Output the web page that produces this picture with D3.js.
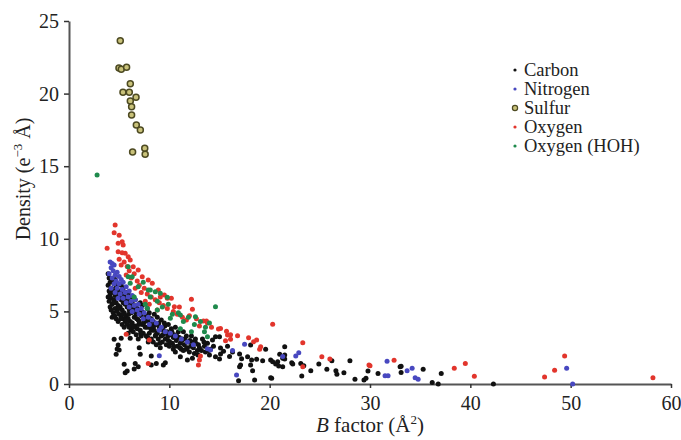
<!DOCTYPE html>
<html>
<head>
<meta charset="utf-8">
<script src="https://cdn.jsdelivr.net/npm/d3@7"></script>
<style>
  body { margin: 0; background: #fff; }
  text { font-family: "Liberation Serif", "Times New Roman", serif; fill: #222; }
</style>
</head>
<body>
<div id="chart"></div>
<script>
// values: [B factor, density]
var carbon = [
  [3.9,7.6],[4.0,7.3],[4.1,7.0],[3.9,6.8],[4.2,6.6],[4.0,6.4],[4.1,6.2],[3.9,6.0],[4.2,5.9],[4.0,5.7],[4.3,5.5],[4.1,5.3],[4.2,5.1],[4.4,4.9],[4.3,4.6],
  [4.6,7.2],[4.5,6.9],[4.7,6.7],[4.5,6.5],[4.8,6.3],[4.6,6.1],[4.9,6.0],[4.5,5.8],[4.7,5.6],[4.9,5.4],[4.6,5.2],[4.8,5.0],[5.0,4.8],[4.7,4.5],[4.9,4.3],
  [5.2,6.8],[5.4,6.6],[5.1,6.4],[5.3,6.2],[5.5,6.0],[5.2,5.8],[5.4,5.6],[5.6,5.5],[5.1,5.3],[5.3,5.1],[5.5,4.9],[5.2,4.7],[5.4,4.5],[5.6,4.3],[5.3,4.1],[5.5,3.9],
  [5.8,6.3],[6.0,6.1],[5.7,5.9],[5.9,5.7],[6.1,5.5],[5.8,5.3],[6.0,5.1],[6.2,4.9],[5.7,4.7],[5.9,4.5],[6.1,4.3],[5.8,4.1],[6.0,3.9],[6.2,3.7],[5.9,3.5],
  [6.4,6.0],[6.6,5.8],[6.3,5.6],[6.5,5.4],[6.8,5.2],[6.4,5.0],[6.7,4.8],[6.5,4.6],[6.9,4.4],[6.3,4.2],[6.6,4.0],[6.8,3.8],[6.4,3.6],[6.7,3.4],
  [7.1,5.6],[7.3,5.4],[7.0,5.1],[7.4,4.9],[7.2,4.7],[7.5,4.5],[7.0,4.3],[7.3,4.1],[7.6,3.9],[7.1,3.7],[7.4,3.5],[7.2,3.3],
  [7.8,5.2],[8.0,4.9],[7.7,4.7],[8.2,4.5],[7.9,4.3],[8.1,4.1],[7.8,3.9],[8.3,3.7],[8.0,3.5],[7.7,3.3],[8.2,3.1],[7.9,2.9],
  [8.5,4.8],[8.8,4.6],[8.4,4.3],[8.7,4.1],[9.0,3.9],[8.5,3.7],[8.8,3.5],[8.6,3.3],[8.9,3.1],[8.4,2.9],[8.7,2.7],
  [9.2,4.4],[9.5,4.2],[9.1,3.9],[9.4,3.7],[9.7,3.5],[9.2,3.3],[9.6,3.1],[9.3,2.9],[9.7,2.7],[9.1,2.5],
  [9.9,4.1],[10.2,3.8],[9.8,3.6],[10.1,3.4],[10.4,3.2],[9.9,3.0],[10.3,2.8],[10.0,2.6],[10.4,2.4],
  [10.6,3.9],[10.9,3.6],[10.5,3.4],[11.0,3.2],[10.7,3.0],[11.1,2.8],[10.8,2.6],[11.2,2.4],[10.6,2.2],
  [11.4,3.6],[11.7,3.3],[11.3,3.1],[11.9,2.9],[11.5,2.7],[11.8,2.5],[11.4,2.3],[12.0,2.2],
  [12.2,3.3],[12.6,3.1],[12.3,2.9],[12.9,2.7],[12.4,2.5],[12.8,2.3],[12.5,2.1],[13.0,2.5],
  [13.3,3.1],[13.8,2.8],[13.5,2.6],[14.1,2.4],[13.6,2.2],[14.4,2.6],[14.0,2.0],[13.2,2.3],
  [4.35,7.1],[4.25,6.3],[4.45,5.6],[4.55,4.7],[4.85,6.9],[5.05,6.1],[4.95,5.2],[5.15,4.5],[5.45,6.35],[5.65,5.7],
  [5.35,4.8],[5.75,4.4],[6.05,5.8],[6.25,5.2],[5.95,4.8],[6.15,4.0],[6.55,5.1],[6.75,4.5],[6.45,3.9],[6.95,4.1],
  [7.25,5.0],[7.45,4.2],[7.15,3.5],[7.65,4.4],[7.95,4.6],[8.15,3.8],[7.85,3.2],[8.45,4.0],[8.65,3.4],[8.95,4.2],
  [9.05,2.8],[9.35,3.4],[9.55,4.0],[9.85,3.3],[10.05,2.9],[10.25,3.6],[10.45,2.6],[10.75,3.3],[11.05,2.5],[11.25,3.0],
  [11.55,3.1],[11.65,2.4],[12.05,3.0],[12.15,2.6],[12.65,2.8],[12.85,2.0],[13.45,2.9],[13.9,2.3],
  [5.2,3.15],[4.5,3.08],[4.9,2.69],[4.8,2.41],[5.0,2.34],[4.7,2.05],[6.1,3.15],[6.9,3.1],[7.0,2.5],[7.1,2.05],
  [5.5,1.36],[5.8,0.9],[6.6,1.42],[6.5,1.03],[6.9,1.19],[5.6,0.78],[8.2,1.93],[8.7,1.42],[8.2,1.31],[9.4,1.31],[9.6,1.47],
  [11.1,1.88],[11.8,1.65],[12.3,1.77],[14.6,3.26],[15.0,3.26],[14.3,3.03],
  [15.1,2.48],[15.4,2.25],[15.1,2.07],[14.6,1.88],[15.0,1.72],[15.8,2.6],[16.3,2.2],[16.0,1.9],
  [18.1,2.69],[19.6,2.39],[17.0,2.07],[17.2,1.74],[17.8,1.88],[18.2,1.65],[18.1,1.31],[18.7,1.70],[19.3,1.60],[20.1,1.65],[20.8,1.54],
  [17.1,1.31],[17.0,1.19],[16.9,0.23],[18.3,0.92],[18.5,0.28],[20.1,0.43],
  [21.5,2.57],[21.0,2.05],[21.5,2.0],[21.3,1.77],[21.5,1.72],
  [20.3,1.54],[20.6,1.38],[20.9,1.24],[21.3,1.19],[22.2,1.47],[22.3,1.38],[20.2,0.39],
  [23.1,1.42],[23.4,1.26],[23.2,0.55],[24.1,0.92],[24.9,1.38],[25.7,1.01],[26.2,1.6],[26.6,0.92],[26.7,0.67],[27.4,0.78],
  [28.0,1.6],[28.5,0.32],[29.4,0.28],[29.6,0.39],[29.8,0.9],[30.8,0.73],[33.0,1.19],
  [33.1,1.22],[33.1,0.8],[35.3,1.01],[36.2,0.1],[36.8,0],[37.1,0.73],[42.3,0]
];

var nitrogen = [
  [4.1,8.4],[4.3,8.3],[4.5,8.2],[4.2,8.0],[4.4,7.8],[4.0,7.6],[4.6,7.5],[4.3,7.3],[4.8,7.7],[5.0,7.4],[4.7,7.1],[5.2,7.2],
  [4.5,6.9],[5.0,6.9],[5.4,7.0],[4.8,6.6],[5.3,6.5],[5.7,6.7],[5.1,6.2],[5.6,6.3],[6.0,6.4],[5.4,5.9],[5.9,6.0],[6.3,6.1],
  [5.7,5.6],[6.2,5.7],[6.6,5.8],[6.0,5.3],[6.5,5.4],[6.9,5.5],[6.3,5.0],[6.8,5.1],[7.2,5.2],[7.0,4.8],[7.5,4.9],[7.4,4.5],
  [7.9,4.6],[8.3,4.4],[8.0,4.1],[8.7,4.2],[9.2,3.9],[9.0,3.7],[9.6,3.6],[10.1,3.5],[10.6,3.3],[11.2,3.1],[11.8,2.9],[12.4,2.7],
  [4.2,6.6],[4.6,6.3],[4.9,5.9],
  [9.0,1.95],[13.8,2.43],[14.1,2.34],[16.3,2.3],[16.7,0.62],[17.5,2.73],[21.3,1.9],[22.6,1.93],[22.9,2.16],
  [31.5,0.57],[31.8,0.57],[31.7,1.56],[33.7,0.92],[34.2,1.08],[34.5,0.43],[34.8,0.32],[49.6,1.08],[50.2,0]
];

var sulfur = [
  [5.11,23.64],[4.98,21.76],[5.21,21.67],[5.74,21.81],[6.11,20.68],[5.38,20.09],[6.01,20.09],[6.68,19.75],
  [6.11,19.49],[6.24,19.1],[6.24,18.53],[6.71,17.84],[7.11,17.49],[7.55,16.23],[6.34,15.98],[7.59,15.82]
];

var oxygen = [
  [4.6,10.95],[4.5,10.42],[5.0,10.24],[3.8,9.35],[4.9,9.69],[5.3,9.8],[5.4,9.57],[4.9,9.11],[5.3,9.04],[5.6,9.0],
  [5.9,8.77],[6.1,8.54],[6.4,8.08],[6.9,7.85],[7.3,7.39],[7.9,7.16],[8.3,6.94],[8.9,6.47],[9.5,6.13],
  [5.0,8.6],[5.5,8.4],[5.8,8.1],[5.2,8.2],[6.0,7.8],[6.5,7.6],[5.7,7.5],[6.2,7.3],[6.8,7.1],[7.0,6.8],[7.5,6.6],
  [6.6,6.6],[7.2,6.3],[7.8,6.2],[8.2,6.0],[8.6,5.8],[7.6,5.7],[8.0,5.5],[9.0,5.6],[9.4,5.4],[8.8,5.1],[9.8,5.2],
  [9.1,6.0],[9.8,5.9],[10.2,5.9],[10.5,5.32],[10.4,5.0],[10.8,4.8],[11.3,4.6],[11.0,5.3],[11.7,4.4],[12.2,5.83],[12.3,5.14],
  [12.0,4.7],[12.7,4.5],[13.4,4.34],[13.7,4.34],[13.8,4.2],[13.0,4.0],[14.2,3.9],[14.9,3.79],[15.1,3.83],[15.7,3.63],
  [15.8,3.37],[16.1,3.4],[16.8,3.33],[17.9,3.19],[18.4,2.91],[18.7,3.03],[15.6,2.98],[16.1,3.08],[20.3,4.11],
  [19.1,2.57],[19.0,2.39],[5.7,3.42],[8.0,3.03],[7.9,1.42],[12.9,1.31],[13.1,1.93],[13.0,1.65],
  [23.3,2.84],[23.3,1.19],[25.2,1.88],[26.0,1.72],[29.9,1.31],[30.0,1.26],[32.4,1.63],
  [38.4,1.08],[39.5,1.42],[40.4,0.53],[47.4,0.48],[48.4,0.94],[49.4,1.93],[58.2,0.43]
];

var oxygenHOH = [
  [2.8,14.39],[5.9,8.08],[5.9,7.39],[6.1,6.94],[6.3,7.39],[6.9,6.7],[7.4,7.0],[7.9,6.47],[8.1,6.47],[8.6,6.36],[9.1,6.25],
  [8.1,6.0],[9.8,5.97],[6.5,6.0],[7.8,5.21],[8.8,5.1],[7.6,5.5],[8.8,5.7],[9.3,5.3],[9.9,5.5],[10.1,4.52],[10.3,4.8],
  [10.9,4.9],[11.1,4.75],[11.4,4.3],[11.9,4.6],[12.6,4.63],[12.5,4.1],[13.1,4.3],[13.5,3.6],[13.6,3.9],[14.0,4.2],
  [13.8,3.26],[11.1,3.8],[12.2,3.6],[14.6,5.32]
];

var seriesNames = ["Carbon", "Nitrogen", "Sulfur", "Oxygen", "Oxygen (HOH)"];
var seriesColors = ["#111111", "#4848c0", "#c9c27a", "#e2352c", "#1f8a4c"];
var xTicks = [0, 10, 20, 30, 40, 50, 60];
var yTicks = [0, 5, 10, 15, 20, 25];

var width = 681, height = 440;

var svg = d3.select("#chart")
  .append("svg")
    .attr("width", width)
    .attr("height", height);

var x = d3.scaleLinear().domain([0, 60]).range([69, 671]);
var y = d3.scaleLinear().domain([0, 25]).range([384, 21]);

// axes
var yAxis = svg.append("g")
  .attr("transform", "translate(69,0)")
  .call(d3.axisLeft(y).tickValues(yTicks).tickSize(5).tickSizeOuter(0).tickPadding(5));

var xAxis = svg.append("g")
  .attr("transform", "translate(0,384)")
  .call(d3.axisBottom(x).tickValues(xTicks).tickSize(4).tickSizeOuter(0).tickPadding(8));

svg.selectAll(".domain").attr("stroke", "#555").attr("stroke-width", 2);
svg.selectAll(".tick line").attr("stroke", "#333").attr("stroke-width", 1.5);
svg.selectAll(".tick text")
  .style("font-family", "Liberation Serif")
  .style("font-size", "20px")
  .attr("fill", "#222");

// points, drawn in legend order
var all = [carbon, nitrogen, sulfur, oxygen, oxygenHOH];
all.forEach(function(data, i) {
  if (i == 2) return;
  svg.append("g").selectAll("circle")
    .data(data)
    .enter()
    .append("circle")
      .attr("cx", function(d) { return x(d[0]); })
      .attr("cy", function(d) { return y(d[1]); })
      .attr("r", 2.5)
      .attr("fill", seriesColors[i]);
});

svg.append("g").selectAll("circle")
  .data(sulfur)
  .enter()
  .append("circle")
    .attr("cx", function(d) { return x(d[0]); })
    .attr("cy", function(d) { return y(d[1]); })
    .attr("r", 3)
    .attr("fill", seriesColors[2])
    .attr("stroke", "#4d4a22")
    .attr("stroke-width", 1.5);

// axis titles
svg.append("text")
  .attr("transform", "translate(30,179) rotate(-90)")
  .attr("text-anchor", "middle")
  .style("font-size", "20px")
  .html('Density (e<tspan dy="-8" font-size="13">−3</tspan><tspan dy="8"> Å)</tspan>');

svg.append("text")
  .attr("x", 370)
  .attr("y", 432)
  .attr("text-anchor", "middle")
  .style("font-size", "21px")
  .html('<tspan font-style="italic">B</tspan> factor (Å<tspan dy="-8" font-size="13">2</tspan><tspan dy="8">)</tspan>');

// legend
var legend = svg.append("g");
seriesNames.forEach(function(name, i) {
  var yy = 76 + i * 19;
  var isS = i == 2;
  legend.append("circle")
    .attr("cx", 515)
    .attr("cy", yy - 6)
    .attr("r", isS ? 2.6 : 1.6)
    .attr("fill", seriesColors[i])
    .attr("stroke", isS ? "#4d4a22" : "none")
    .attr("stroke-width", 1.2);
  legend.append("text")
    .attr("x", 524)
    .attr("y", yy)
    .style("font-size", "18.5px")
    .text(name);
});
</script>
</body>
</html>
